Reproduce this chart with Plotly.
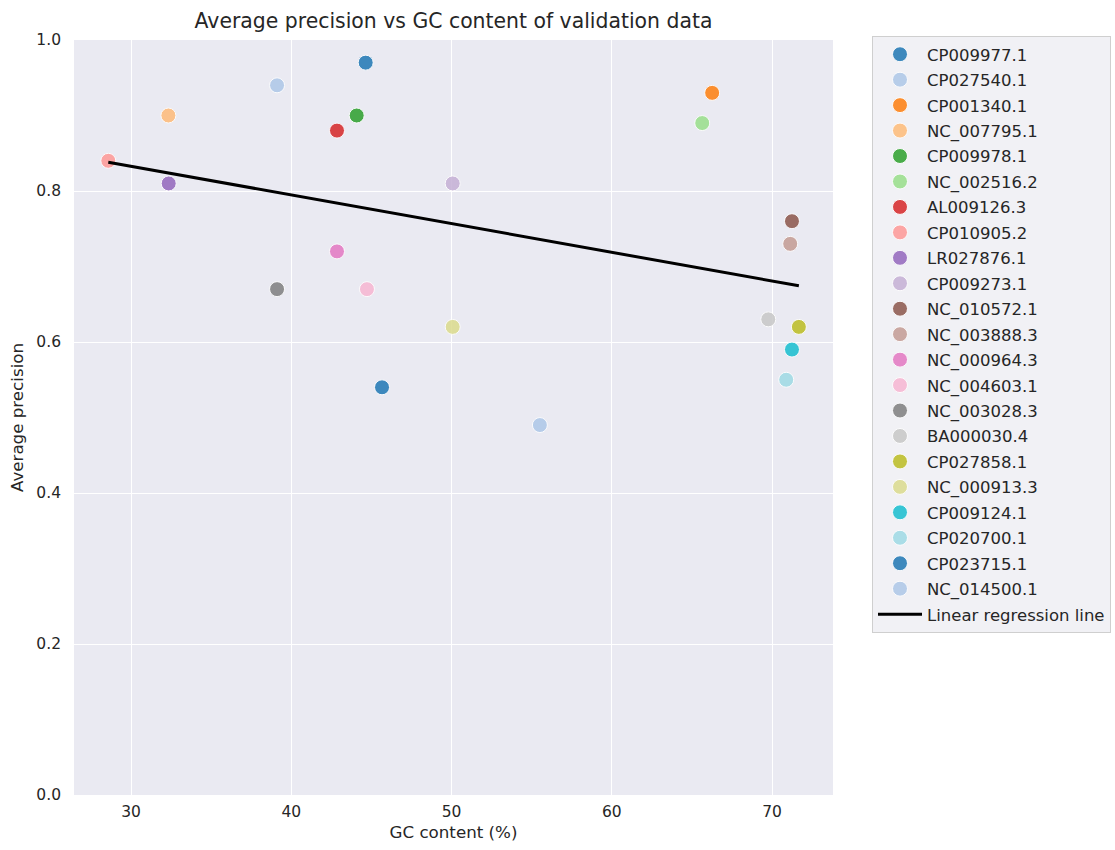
import numpy as np
import plotly.graph_objects as go

# Validation genomes, GC content (%) and average precision
accessions = [
    "CP009977.1", "CP027540.1", "CP001340.1", "NC_007795.1", "CP009978.1",
    "NC_002516.2", "AL009126.3", "CP010905.2", "LR027876.1", "CP009273.1",
    "NC_010572.1", "NC_003888.3", "NC_000964.3", "NC_004603.1", "NC_003028.3",
    "BA000030.4", "CP027858.1", "NC_000913.3", "CP009124.1", "CP020700.1",
    "CP023715.1", "NC_014500.1",
]
gc_content = [
    44.64, 39.11, 66.26, 32.33, 44.08,
    65.64, 42.85, 28.58, 32.35, 50.07,
    71.24, 71.13, 42.85, 44.72, 39.11,
    69.76, 71.67, 50.07, 71.24, 70.88,
    45.66, 55.51,
]
avg_precision = [
    0.97, 0.94, 0.93, 0.90, 0.90,
    0.89, 0.88, 0.84, 0.81, 0.81,
    0.76, 0.73, 0.72, 0.67, 0.67,
    0.63, 0.62, 0.62, 0.59, 0.55,
    0.54, 0.49,
]

# tab20 palette, cycled over the accessions
tab20 = [
    "#1f77b4", "#aec7e8", "#ff7f0e", "#ffbb78", "#2ca02c", "#98df8a",
    "#d62728", "#ff9896", "#9467bd", "#c5b0d5", "#8c564b", "#c49c94",
    "#e377c2", "#f7b6d2", "#7f7f7f", "#c7c7c7", "#bcbd22", "#dbdb8d",
    "#17becf", "#9edae5",
]

x_ticks = [30, 40, 50, 60, 70]
y_ticks = [0.0, 0.2, 0.4, 0.6, 0.8, 1.0]

text_color = "#262626"
font_family = "DejaVu Sans"

fig = go.Figure()

for i, (name, gx, ap) in enumerate(zip(accessions, gc_content, avg_precision)):
    fig.add_trace(go.Scatter(
        x=[gx], y=[ap], mode="markers", name=name,
        legendgroup=name,
        marker=dict(size=15, color=tab20[i % len(tab20)], opacity=0.85,
                    line=dict(color="white", width=1)),
    ))

# Least-squares fit across all genomes
slope, intercept = np.polyfit(gc_content, avg_precision, 1)
x_fit = np.array([min(gc_content), max(gc_content)])
y_fit = slope * x_fit + intercept
fig.add_trace(go.Scatter(
    x=x_fit, y=y_fit, mode="lines", name="Linear regression line",
    legendgroup="fit",
    line=dict(color="black", width=3),
))

fig.update_layout(
    width=1115, height=850,
    margin=dict(l=74, r=282, t=40, b=55, autoexpand=False),
    paper_bgcolor="white",
    plot_bgcolor="#eaeaf2",
    font=dict(family=font_family, size=15.5, color=text_color),
    title=dict(
        text="Average precision vs GC content of validation data",
        x=(74 + 833) / 2 / 1115, xanchor="center",
        y=1 - 21 / 850, yanchor="middle",
        font=dict(size=20.4, color=text_color),
    ),
    xaxis=dict(
        range=[26.44, 73.8], tickvals=x_ticks,
        showgrid=True, gridcolor="white", gridwidth=1,
        zeroline=False, showline=False, ticks="",
        ticklabelstandoff=5,
        tickfont=dict(size=15.5),
        title=dict(text="GC content (%)", font=dict(size=16.7, color=text_color),
                   standoff=6),
    ),
    yaxis=dict(
        range=[0, 1], tickvals=y_ticks, tickformat=".1f",
        showgrid=True, gridcolor="white", gridwidth=1,
        zeroline=False, showline=False, ticks="",
        ticklabelstandoff=12,
        tickfont=dict(size=15.5),
        title=dict(text="Average precision", font=dict(size=16.7, color=text_color),
                   standoff=8),
    ),
    legend=dict(
        x=(872 - 74) / 759, xanchor="left",
        y=(795 - 36) / 755, yanchor="top",
        maxheight=1,
        bgcolor="#f1f1f5", bordercolor="#cfcfcf", borderwidth=1,
        font=dict(size=16.5, color=text_color),
        tracegroupgap=1,
        itemwidth=44,
    ),
    showlegend=True,
)

fig.write_html("out.html")
